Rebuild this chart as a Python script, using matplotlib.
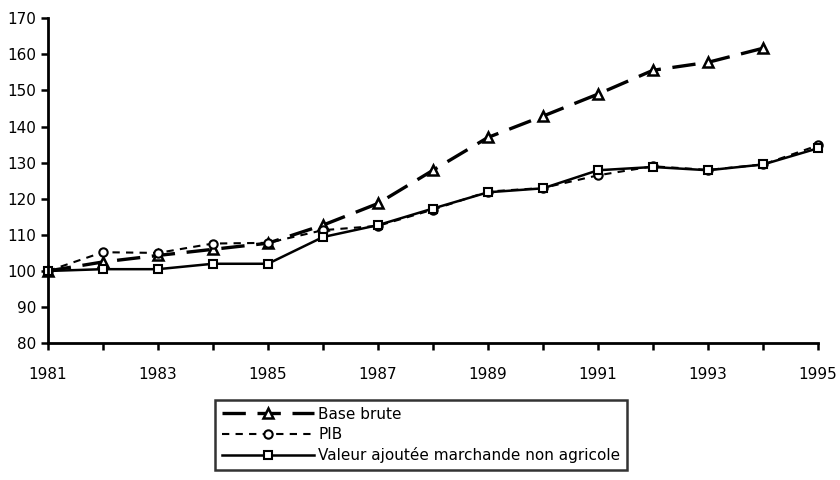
import matplotlib
matplotlib.use('Agg')
import matplotlib.pyplot as plt

years = list(range(1981, 1996))
base_brute = [100, 102.5, 104.3, 106, 107.7, 112.7, 118.7, 127.9, 137, 142.9, 149, 155.6, 157.8, 161.7]
pib = [100, 105.2, 105, 107.6, 107.8, 111.3, 112.5, 117, 122, 123, 126.5, 129, 128, 129.5, 134.8]
va_marchande = [100, 100.5, 100.5, 102, 102, 109.4, 112.7, 117.3, 121.8, 122.9, 127.9, 128.8, 127.9, 129.5, 134]

labels = ['Base brute', 'PIB', 'Valeur ajoutée marchande non agricole']
yticks = list(range(80, 171, 10))

plt.rcParams['font.family'] = ['DejaVu Sans']

fig = plt.figure(figsize=(8.4, 4.8), dpi=100)
ax = fig.add_axes([0.057, 0.285, 0.917, 0.677])

ax.plot(years[:len(base_brute)], base_brute, color='black', linewidth=2.4,
        linestyle=(0, (7, 3.5)), marker='^', markersize=7, markerfacecolor='white',
        markeredgewidth=1.8, label=labels[0])
ax.plot(years, pib, color='black', linewidth=1.5, linestyle=(0, (3.5, 3)),
        marker='o', markersize=6, markerfacecolor='white', markeredgewidth=1.5,
        label=labels[1])
ax.plot(years, va_marchande, color='black', linewidth=1.8, linestyle='-',
        marker='s', markersize=6, markerfacecolor='white', markeredgewidth=1.5,
        label=labels[2])

ax.set_xlim(1981, 1995)
ax.set_ylim(80, 170)
ax.set_yticks(yticks)
ax.set_xticks(years)
ax.set_xticklabels([str(y) if (y - 1981) % 2 == 0 else '' for y in years])
ax.spines['top'].set_visible(False)
ax.spines['right'].set_visible(False)
ax.spines['left'].set_linewidth(2)
ax.spines['bottom'].set_linewidth(2)
ax.tick_params(axis='both', direction='out', width=1.8, length=5, labelsize=11)
ax.tick_params(axis='x', pad=12)
for line in ax.get_lines():
    line.set_clip_on(False)

handles, labs = ax.get_legend_handles_labels()
leg = fig.legend(handles, labs, loc='upper left', bbox_to_anchor=(0.256, 0.167),
                 fontsize=11, frameon=True, fancybox=False, handlelength=6,
                 handletextpad=0.3, borderpad=0.45, labelspacing=0.35,
                 borderaxespad=0)
leg.get_frame().set_edgecolor('black')
leg.get_frame().set_linewidth(1.8)

fig.savefig('out.png', dpi=100, facecolor='white')
